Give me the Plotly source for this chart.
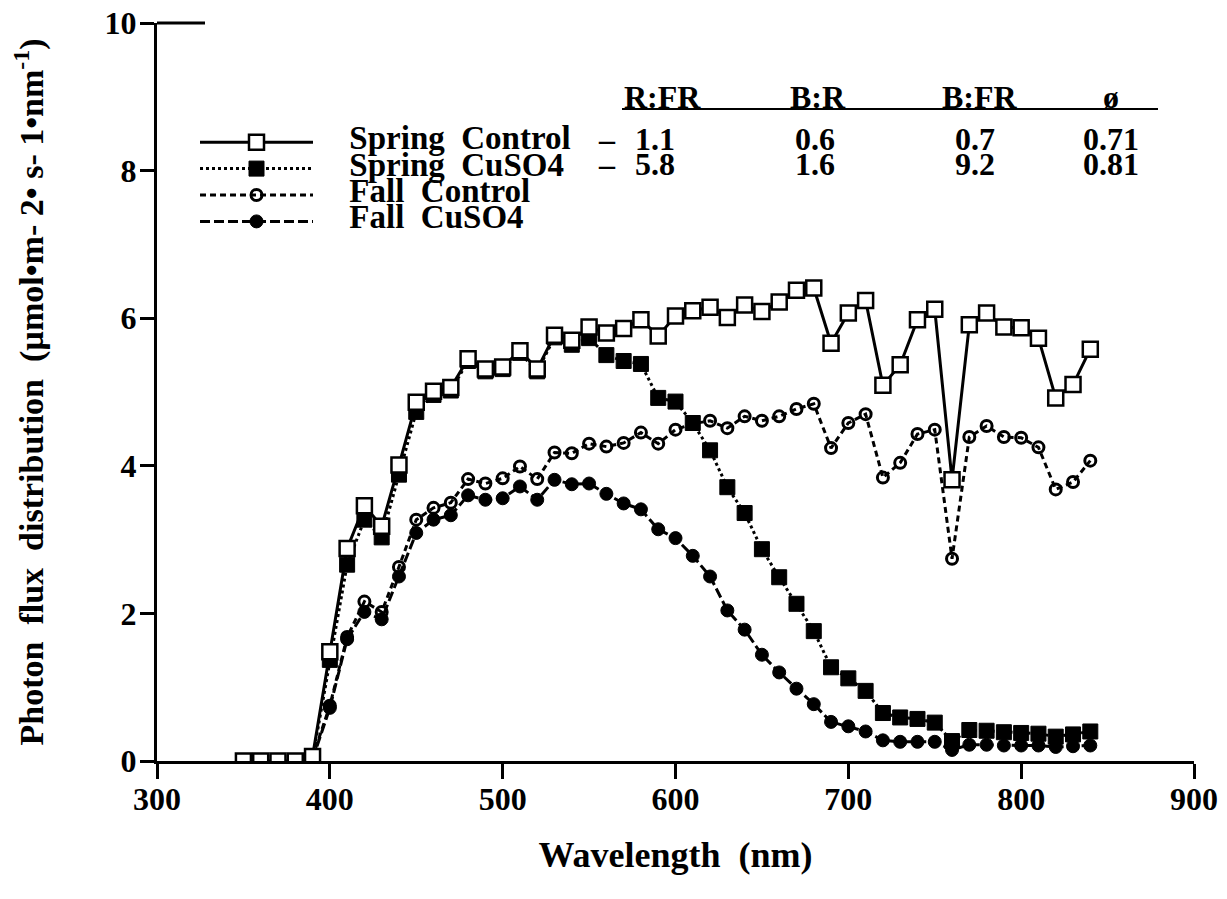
import plotly.graph_objects as go

# ---------------- data ----------------
wl_spring_control = list(range(350, 850, 10))
spring_control = [0.0, 0.0, 0.0, 0.0, 0.06, 1.48, 2.88, 3.46, 3.18, 4.01,
                  4.86, 5.01, 5.06, 5.45, 5.31, 5.34, 5.56, 5.31, 5.77, 5.70,
                  5.88, 5.80, 5.86, 5.98, 5.76, 6.03, 6.10, 6.15, 6.01, 6.18,
                  6.09, 6.22, 6.38, 6.41, 5.66, 6.07, 6.24, 5.09, 5.37, 5.98,
                  6.12, 3.81, 5.91, 6.07, 5.88, 5.87, 5.73, 4.92, 5.10, 5.58]

wl = list(range(390, 850, 10))
spring_cuso4 = [0.03, 1.37, 2.66, 3.27, 3.03, 3.88, 4.73, 4.96, 5.02, 5.42,
                5.28, 5.31, 5.53, 5.28, 5.74, 5.64, 5.73, 5.50, 5.42, 5.38,
                4.92, 4.87, 4.58, 4.21, 3.71, 3.36, 2.87, 2.49, 2.13, 1.76,
                1.27, 1.12, 0.95, 0.65, 0.59, 0.57, 0.52, 0.27, 0.42, 0.41,
                0.39, 0.38, 0.37, 0.33, 0.36, 0.40]
fall_control = [0.05, 0.75, 1.68, 2.16, 2.02, 2.63, 3.27, 3.43, 3.50, 3.82,
                3.76, 3.83, 3.99, 3.82, 4.18, 4.17, 4.30, 4.26, 4.31, 4.45,
                4.30, 4.49, 4.57, 4.61, 4.51, 4.67, 4.61, 4.67, 4.77, 4.84,
                4.24, 4.58, 4.70, 3.84, 4.04, 4.43, 4.49, 2.74, 4.39, 4.54,
                4.39, 4.38, 4.25, 3.68, 3.78, 4.07]
fall_cuso4 = [0.02, 0.72, 1.65, 2.02, 1.92, 2.50, 3.09, 3.27, 3.33, 3.60,
              3.54, 3.56, 3.72, 3.54, 3.81, 3.75, 3.76, 3.62, 3.49, 3.41,
              3.14, 3.02, 2.78, 2.50, 2.04, 1.78, 1.44, 1.20, 0.98, 0.77,
              0.53, 0.47, 0.40, 0.28, 0.26, 0.26, 0.26, 0.15, 0.22, 0.22,
              0.21, 0.21, 0.21, 0.19, 0.20, 0.21]

series_names = ["Spring  Control", "Spring  CuSO4", "Fall  Control", "Fall  CuSO4"]

x_ticks = [300, 400, 500, 600, 700, 800, 900]
y_ticks = [0, 2, 4, 6, 8, 10]

table_headers = ["R:FR", "B:R", "B:FR", "ø"]
table_rows = [["1.1", "0.6", "0.7", "0.71"],
              ["5.8", "1.6", "9.2", "0.81"]]

FONT = "Liberation Serif"
BLACK = "#000000"


def legend_label(name):
    # larger text inside a compact legend row
    txt = "\u00a0\u00a0\u00a0\u2009" + name.replace("  ", "\u00a0 ")
    return "<span style='font-size:33px'>" + txt + "</span>"


fig = go.Figure()

fig.add_trace(go.Scatter(
    x=wl, y=fall_cuso4, name=legend_label(series_names[3]), mode="lines+markers",
    legendrank=4,
    line=dict(color=BLACK, width=3, dash="10px,4px"),
    marker=dict(symbol="circle", size=13, color=BLACK, line=dict(color=BLACK, width=1))))
fig.add_trace(go.Scatter(
    x=wl, y=fall_control, name=legend_label(series_names[2]), mode="lines+markers",
    legendrank=3,
    line=dict(color=BLACK, width=3, dash="6px,4px"),
    marker=dict(symbol="circle-open", size=11, color=BLACK, line=dict(color=BLACK, width=3))))
fig.add_trace(go.Scatter(
    x=wl, y=spring_cuso4, name=legend_label(series_names[1]), mode="lines+markers",
    legendrank=2,
    line=dict(color=BLACK, width=3, dash="dot"),
    marker=dict(symbol="square", size=15, color=BLACK, line=dict(color=BLACK, width=1))))
fig.add_trace(go.Scatter(
    x=wl_spring_control, y=spring_control, name=legend_label(series_names[0]),
    mode="lines+markers", legendrank=1,
    line=dict(color=BLACK, width=3),
    marker=dict(symbol="square", size=15, color="white", line=dict(color=BLACK, width=2.5))))

# ---- ratio table (positions in screen pixels converted to paper) ----
PLOT_L, PLOT_W, PLOT_B, PLOT_H = 157, 1037, 761, 738


def px_x(p):
    return (p - PLOT_L) / PLOT_W


def px_y(p):
    return (PLOT_B - p) / PLOT_H


hdr_x = [662, 818, 980, 1111]
val_x = [655, 815, 975, 1111]
hdr_y = 97
row_y = [139, 164]
tfont = dict(family=FONT, size=32, color=BLACK, weight="bold")

for cx, h in zip(hdr_x, table_headers):
    fig.add_annotation(x=px_x(cx), y=px_y(hdr_y), xref="paper", yref="paper",
                       text=h, showarrow=False, xanchor="center", yanchor="middle",
                       font=tfont)
for ry, row in zip(row_y, table_rows):
    fig.add_annotation(x=px_x(607), y=px_y(ry), xref="paper", yref="paper",
                       text="–", showarrow=False, xanchor="center", yanchor="middle",
                       font=tfont)
    for cx, v in zip(val_x, row):
        fig.add_annotation(x=px_x(cx), y=px_y(ry), xref="paper", yref="paper",
                           text=v, showarrow=False, xanchor="center", yanchor="middle",
                           font=tfont)
fig.add_shape(type="line", xref="paper", yref="paper",
              x0=px_x(622), x1=px_x(1158), y0=px_y(109), y1=px_y(109),
              line=dict(color=BLACK, width=2))
# short top frame segment at y = 10
fig.add_shape(type="line", xref="paper", yref="paper",
              x0=0, x1=px_x(205), y0=1, y1=1,
              line=dict(color=BLACK, width=3))

tick_font = dict(family=FONT, size=32, color=BLACK, weight="bold")

fig.update_layout(
    width=1227, height=899,
    margin=dict(l=149, r=41, t=15, b=146, autoexpand=False),
    paper_bgcolor="white", plot_bgcolor="white",
    font=dict(family=FONT, size=30, color=BLACK, weight="bold"),
    showlegend=True,
    legend=dict(x=px_x(195), y=px_y(124), xanchor="left", yanchor="top",
                bgcolor="rgba(0,0,0,0)", itemwidth=113,
                font=dict(family=FONT, size=18, color=BLACK, weight="bold"),
                tracegroupgap=0, itemclick=False, itemdoubleclick=False),
    xaxis=dict(range=[300, 900], tickvals=x_ticks, ticks="outside", ticklen=15,
               tickwidth=3, tickcolor=BLACK, showline=True, linewidth=3,
               linecolor=BLACK, showgrid=False, zeroline=False, mirror=False,
               automargin=False,
               tickfont=tick_font, ticklabeloverflow="allow", ticklabelstandoff=-7,
               title=dict(text="Wavelength  (nm)", standoff=26,
                          font=dict(family=FONT, size=36, color=BLACK, weight="bold"))),
    yaxis=dict(range=[0, 10], tickvals=y_ticks, ticks="outside", ticklen=14,
               tickwidth=3, tickcolor=BLACK, showline=True, linewidth=3,
               linecolor=BLACK, showgrid=False, zeroline=False, mirror=False,
               automargin=False,
               tickfont=tick_font, ticklabeloverflow="allow", ticklabelstandoff=-3,
               title=dict(text="Photon\u00a0 flux\u00a0 distribution\u00a0 (µmol•m- 2• s- 1•nm<sup>-1</sup>)",
                          standoff=70,
                          font=dict(family=FONT, size=34, color=BLACK, weight="bold"))),
)

fig.write_html("out.html")
